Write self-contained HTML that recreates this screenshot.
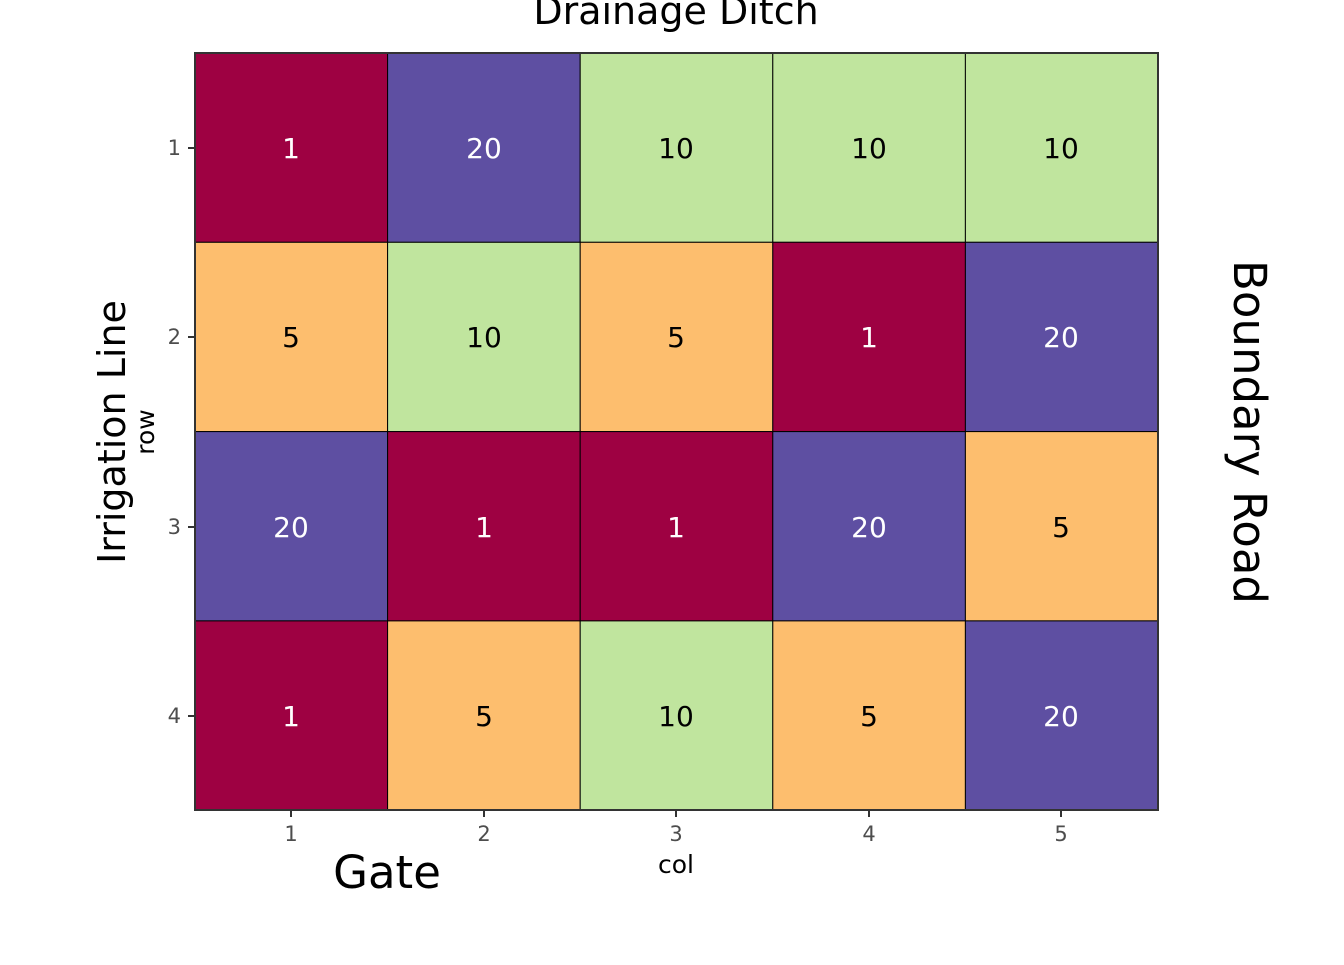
<!DOCTYPE html>
<html><head><meta charset="utf-8"><style>html,body{margin:0;padding:0;background:#fff}</style></head>
<body>
<svg width="1344" height="960" xmlns="http://www.w3.org/2000/svg" font-family="DejaVu Sans, Liberation Sans, sans-serif">
<rect width="1344" height="960" fill="#fff"/>
<g stroke="#000" stroke-width="1">
<rect x="195" y="53" width="192.6" height="189.3" fill="#9E0142"/>
<rect x="387.6" y="53" width="192.6" height="189.3" fill="#5E4FA2"/>
<rect x="580.2" y="53" width="192.6" height="189.3" fill="#C0E59E"/>
<rect x="772.8" y="53" width="192.6" height="189.3" fill="#C0E59E"/>
<rect x="965.4" y="53" width="192.6" height="189.3" fill="#C0E59E"/>
<rect x="195" y="242.3" width="192.6" height="189.3" fill="#FDBE6E"/>
<rect x="387.6" y="242.3" width="192.6" height="189.3" fill="#C0E59E"/>
<rect x="580.2" y="242.3" width="192.6" height="189.3" fill="#FDBE6E"/>
<rect x="772.8" y="242.3" width="192.6" height="189.3" fill="#9E0142"/>
<rect x="965.4" y="242.3" width="192.6" height="189.3" fill="#5E4FA2"/>
<rect x="195" y="431.6" width="192.6" height="189.3" fill="#5E4FA2"/>
<rect x="387.6" y="431.6" width="192.6" height="189.3" fill="#9E0142"/>
<rect x="580.2" y="431.6" width="192.6" height="189.3" fill="#9E0142"/>
<rect x="772.8" y="431.6" width="192.6" height="189.3" fill="#5E4FA2"/>
<rect x="965.4" y="431.6" width="192.6" height="189.3" fill="#FDBE6E"/>
<rect x="195" y="620.9" width="192.6" height="189.1" fill="#9E0142"/>
<rect x="387.6" y="620.9" width="192.6" height="189.1" fill="#FDBE6E"/>
<rect x="580.2" y="620.9" width="192.6" height="189.1" fill="#C0E59E"/>
<rect x="772.8" y="620.9" width="192.6" height="189.1" fill="#FDBE6E"/>
<rect x="965.4" y="620.9" width="192.6" height="189.1" fill="#5E4FA2"/>
</g>
<rect x="195" y="53" width="963" height="757" fill="none" stroke="#333" stroke-width="2"/>
<g font-size="28" text-anchor="middle">
<text x="291" y="158" fill="#fff">1</text><text x="484" y="158" fill="#fff">20</text><text x="676" y="158">10</text><text x="869" y="158">10</text><text x="1061" y="158">10</text>
<text x="291" y="347">5</text><text x="484" y="347">10</text><text x="676" y="347">5</text><text x="869" y="347" fill="#fff">1</text><text x="1061" y="347" fill="#fff">20</text>
<text x="291" y="537" fill="#fff">20</text><text x="484" y="537" fill="#fff">1</text><text x="676" y="537" fill="#fff">1</text><text x="869" y="537" fill="#fff">20</text><text x="1061" y="537">5</text>
<text x="291" y="726" fill="#fff">1</text><text x="484" y="726">5</text><text x="676" y="726">10</text><text x="869" y="726">5</text><text x="1061" y="726" fill="#fff">20</text>
</g>
<g stroke="#333" stroke-width="2">
<line x1="188" y1="148" x2="195" y2="148"/><line x1="188" y1="337" x2="195" y2="337"/><line x1="188" y1="527" x2="195" y2="527"/><line x1="188" y1="716" x2="195" y2="716"/>
<line x1="291" y1="810" x2="291" y2="817"/><line x1="484" y1="810" x2="484" y2="817"/><line x1="676" y1="810" x2="676" y2="817"/><line x1="869" y1="810" x2="869" y2="817"/><line x1="1061" y1="810" x2="1061" y2="817"/>
</g>
<g font-size="21" fill="#4D4D4D">
<g text-anchor="end"><text x="181" y="155">1</text><text x="181" y="344">2</text><text x="181" y="534">3</text><text x="181" y="723">4</text></g>
<g text-anchor="middle"><text x="291" y="841">1</text><text x="484" y="841">2</text><text x="676" y="841">3</text><text x="869" y="841">4</text><text x="1061" y="841">5</text></g>
</g>
<text x="676" y="873" font-size="25" text-anchor="middle">col</text>
<text transform="translate(154,432) rotate(-90)" font-size="25" text-anchor="middle">row</text>
<text x="676" y="24" font-size="38" text-anchor="middle">Drainage Ditch</text>
<text x="387" y="888" font-size="45" text-anchor="middle">Gate</text>
<text transform="translate(125,432) rotate(-90)" font-size="38" text-anchor="middle">Irrigation Line</text>
<text transform="translate(1234,432) rotate(90)" font-size="45" text-anchor="middle">Boundary Road</text>
</svg>
</body></html>
